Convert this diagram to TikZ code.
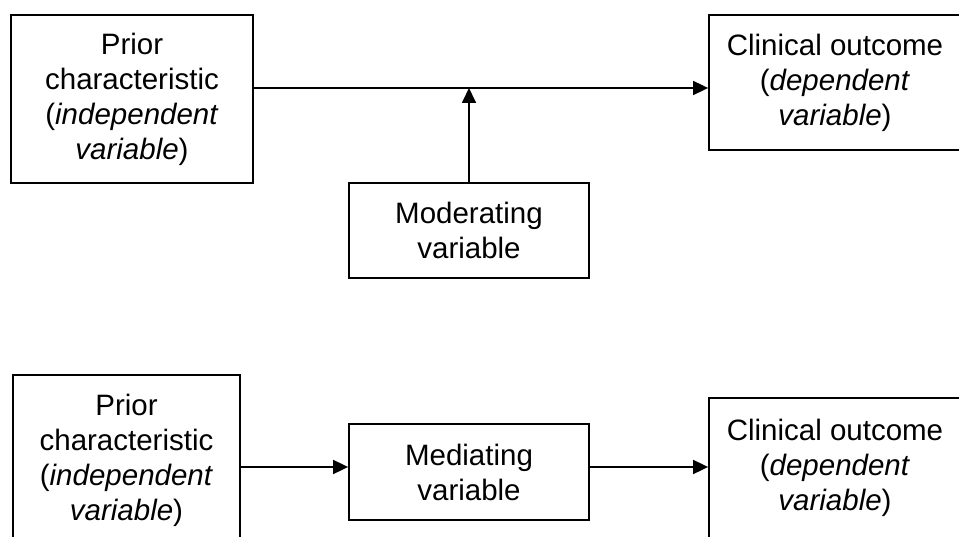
\documentclass[tikz,border=0pt]{standalone}
\usepackage{fontspec}
\setmainfont{Liberation Sans}
\usetikzlibrary{arrows.meta}

\tikzset{
  varbox/.style={draw, line width=1.8pt, align=center, inner sep=0pt,
    font=\fontsize{29.5}{35}\selectfont},
  effect/.style={line width=1.8pt, -{Triangle[length=15pt,width=14pt]}}
}

\begin{document}
\begin{tikzpicture}[x=1pt,y=-1pt]
        \clip (0,0) rectangle (959,537);
        \node[varbox, minimum width=242pt, minimum height=168pt] (prior) at (132,99)
            {Prior\\characteristic\\(\textit{independent}\\\textit{variable})};
        \node[varbox, minimum width=252pt, minimum height=135pt] (outcome) at (835,82.5)
            {Clinical outcome\\(\textit{dependent}\\\textit{variable})};
        \node[varbox, minimum width=240pt, minimum height=95pt] (moder) at (469,230.5)
            {Moderating\\variable};
        \coordinate (join) at (469,88);
        \draw[effect] (prior.east |- join) -- (outcome.west |- join);
        \draw[effect] (moder.north) -- (join);

        \node[varbox, minimum width=227pt, minimum height=170pt] (prior2) at (126.5,460)
            {Prior\\characteristic\\(\textit{independent}\\\textit{variable})};
        \node[varbox, minimum width=240pt, minimum height=96pt] (medi) at (469,472)
            {Mediating\\variable};
        \node[varbox, minimum width=252pt, minimum height=140pt] (outcome2) at (835,468)
            {Clinical outcome\\(\textit{dependent}\\\textit{variable})};
        \coordinate (path) at (469,467);
        \draw[effect] (prior2.east |- path) -- (medi.west |- path);
        \draw[effect] (medi.east |- path) -- (outcome2.west |- path);
    \end{tikzpicture}
\end{document}
